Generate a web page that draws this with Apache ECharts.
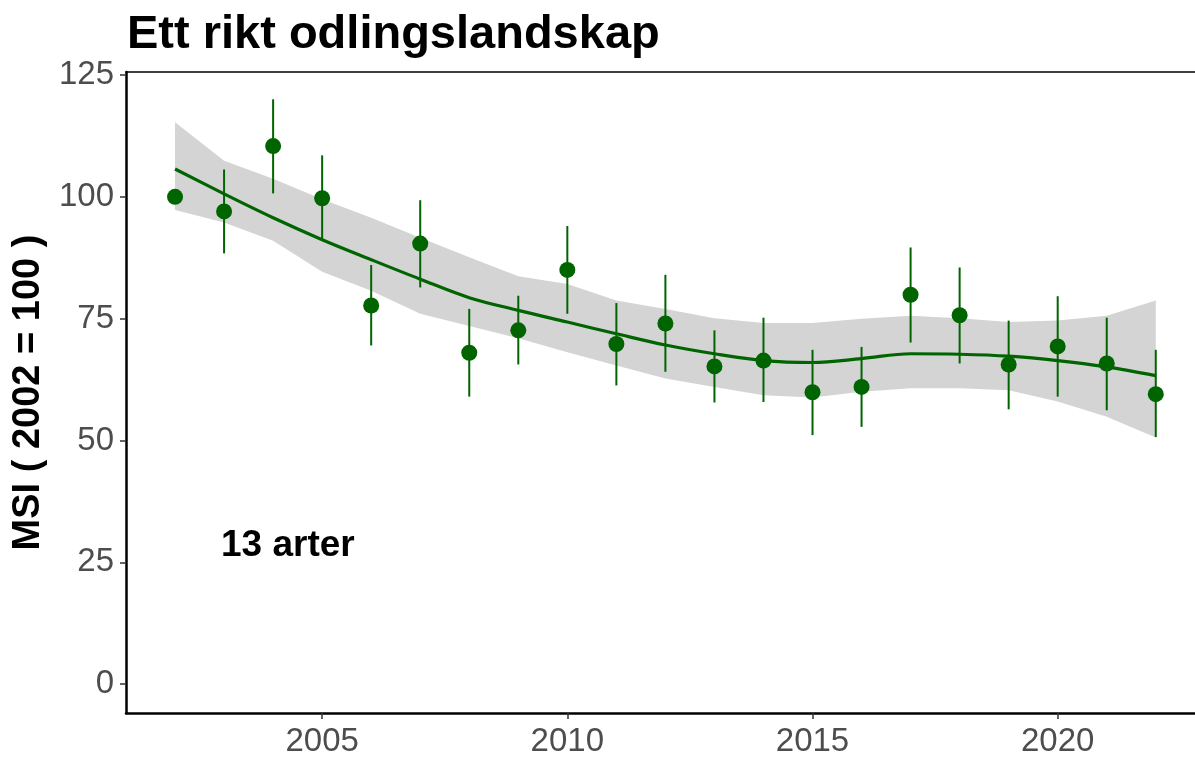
<!DOCTYPE html>
<html>
<head>
<meta charset="utf-8">
<title>Ett rikt odlingslandskap</title>
<script src="https://cdn.jsdelivr.net/npm/echarts@6/dist/echarts.min.js"></script>
<style>
  html, body { margin: 0; padding: 0; background: #ffffff; }
  #chart { width: 1195px; height: 758px; }
</style>
</head>
<body>
<div id="chart"></div>
<script>
// Multi-species index for farmland birds, 2002 = 100
const years = [2002, 2003, 2004, 2005, 2006, 2007, 2008, 2009, 2010, 2011, 2012,
               2013, 2014, 2015, 2016, 2017, 2018, 2019, 2020, 2021, 2022];
const msi = [100, 97.0, 110.4, 99.7, 77.7, 90.4, 68.0, 72.6, 85.0, 69.8, 74.0,
             65.2, 66.4, 59.9, 61.0, 79.9, 75.7, 65.6, 69.3, 65.8, 59.5];
const errHigh = [null, 105.6, 120.0, 108.5, 86.0, 99.3, 77.0, 79.7, 94.0, 78.2, 84.0,
                 72.6, 75.2, 68.6, 69.2, 89.6, 85.5, 74.6, 79.6, 75.2, 68.6];
const errLow = [null, 88.4, 100.7, 91.3, 69.5, 81.4, 59.0, 65.6, 76.0, 61.3, 64.1,
                57.8, 57.9, 51.1, 52.8, 70.1, 65.8, 56.4, 59.0, 56.2, 50.7];
const trend = [105.7, 100.6, 95.7, 91.2, 87.1, 83.1, 79.3, 76.7, 74.3, 71.9, 69.6,
               67.8, 66.4, 66.0, 66.8, 67.8, 67.7, 67.3, 66.4, 65.1, 63.3];
const bandHigh = [115.3, 107.4, 103.7, 99.5, 95.7, 91.6, 87.6, 83.7, 82.1, 78.7, 77.0,
                  75.1, 74.1, 74.1, 75.0, 75.6, 75.1, 74.3, 74.6, 75.6, 78.7];
const bandLow = [97.3, 94.7, 91.0, 84.6, 80.7, 76.0, 73.5, 71.0, 68.1, 65.4, 62.7,
                 61.0, 59.3, 58.8, 60.0, 60.7, 60.7, 60.3, 58.0, 54.9, 50.6];
const yTicks = [0, 25, 50, 75, 100, 125];
const xTicks = [2005, 2010, 2015, 2020];
const titleText = 'Ett rikt odlingslandskap';
const yTitle = 'MSI ( 2002 = 100 )';
const noteText = '13 arter';
const notePos = [2004.3, 28.4];

const GREEN = '#006400';
const FONT = '"Liberation Sans", Arial, sans-serif';

const chart = echarts.init(document.getElementById('chart'), null, { renderer: 'canvas' });

const option = {
  backgroundColor: '#ffffff',
  animation: false,
  title: {
    text: titleText,
    left: 122,
    top: 7,
    textStyle: { fontFamily: FONT, fontWeight: 'bold', fontSize: 47, color: '#000000' }
  },
  grid: {
    left: 126, right: 0, top: 72, bottom: 40,
    show: false
  },
  xAxis: [
    {
      type: 'value',
      min: 2001, max: 2022.8,
      splitLine: { show: false },
      axisLine: { show: true, onZero: false, lineStyle: { color: '#000000', width: 2.5 } },
      axisTick: { show: true, length: 6, customValues: xTicks, lineStyle: { color: '#333333', width: 1.5 } },
      axisLabel: {
        customValues: xTicks, margin: 12,
        fontFamily: FONT, fontSize: 33, color: '#4d4d4d',
        formatter: v => String(v)
      }
    },
    {
      // top edge of the panel
      type: 'value',
      position: 'top',
      min: 2001, max: 2022.8,
      splitLine: { show: false },
      axisLine: { show: true, onZero: false, lineStyle: { color: '#000000', width: 1.5 } },
      axisTick: { show: false },
      axisLabel: { show: false }
    }
  ],
  yAxis: {
    type: 'value',
    min: -5.9, max: 125.6,
    name: yTitle,
    nameLocation: 'middle',
    nameGap: 78,
    nameTextStyle: { fontFamily: FONT, fontWeight: 'bold', fontSize: 38, color: '#000000' },
    splitLine: { show: false },
    axisLine: { show: true, onZero: false, lineStyle: { color: '#000000', width: 2.5 } },
    axisTick: { show: true, length: 6, customValues: yTicks, lineStyle: { color: '#333333', width: 1.5 } },
    axisLabel: {
      customValues: yTicks, margin: 12,
      fontFamily: FONT, fontSize: 33, color: '#4d4d4d'
    }
  },
  series: [
    {
      // confidence band around the trend
      type: 'custom',
      z: 1,
      silent: true,
      data: years.map((y, i) => [y, bandLow[i], bandHigh[i]]),
      renderItem: function (params, api) {
        if (params.dataIndex !== 0) return null;
        const upper = years.map((y, i) => api.coord([y, bandHigh[i]]));
        const lower = years.map((y, i) => api.coord([y, bandLow[i]])).reverse();
        return {
          type: 'polygon',
          shape: { points: upper.concat(lower) },
          style: { fill: '#d4d4d4', stroke: null }
        };
      }
    },
    {
      // smoothed trend
      type: 'line',
      z: 2,
      data: years.map((y, i) => [y, trend[i]]),
      smooth: 0.35,
      symbol: 'none',
      lineStyle: { color: GREEN, width: 3.2 }
    },
    {
      // error bars
      type: 'custom',
      z: 3,
      data: years.map((y, i) => [y, errLow[i], errHigh[i]]),
      renderItem: function (params, api) {
        const lo = api.value(1), hi = api.value(2);
        if (lo == null || hi == null || isNaN(lo) || isNaN(hi)) return null;
        const x = api.value(0);
        const p1 = api.coord([x, lo]);
        const p2 = api.coord([x, hi]);
        return {
          type: 'line',
          shape: { x1: p1[0], y1: p1[1], x2: p2[0], y2: p2[1] },
          style: { stroke: GREEN, lineWidth: 2 }
        };
      }
    },
    {
      // yearly index values
      type: 'scatter',
      z: 4,
      data: years.map((y, i) => [y, msi[i]]),
      symbol: 'circle',
      symbolSize: 16,
      itemStyle: { color: GREEN, opacity: 1 }
    },
    {
      // number of species
      type: 'scatter',
      z: 5,
      data: [notePos],
      symbolSize: 1,
      silent: true,
      itemStyle: { color: 'rgba(0,0,0,0)', opacity: 1 },
      label: {
        show: true,
        position: 'inside',
        formatter: noteText,
        fontFamily: FONT, fontWeight: 'bold', fontSize: 37, color: '#000000'
      }
    }
  ]
};

chart.setOption(option);
</script>
</body>
</html>
